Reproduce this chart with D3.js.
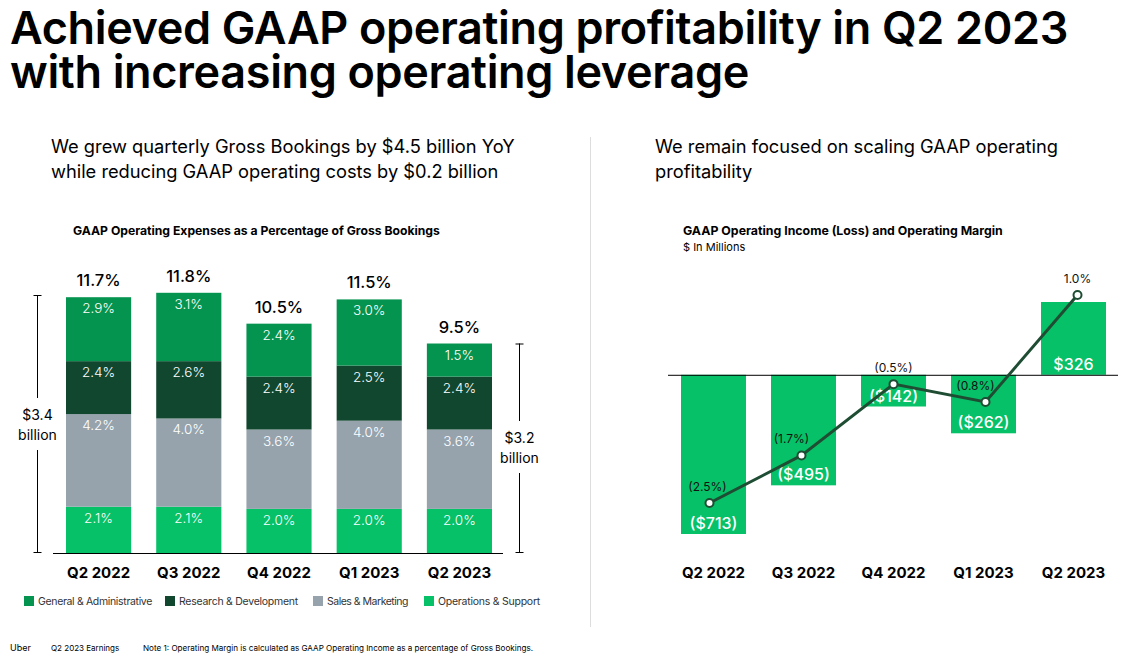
<!DOCTYPE html>
<html><head><meta charset="utf-8">
<script src="https://cdn.jsdelivr.net/npm/d3@7"></script>
<style>
html,body{margin:0;padding:0;background:#fff;}
svg{display:block;font-family:Inter,"Open Sans",sans-serif;}
</style></head>
<body><svg id="c" width="1126" height="657"></svg>
<script>
// ---- data ----
const categories = ["Q2 2022","Q3 2022","Q4 2022","Q1 2023","Q2 2023"];
const opsSupport = [2.1,2.1,2.0,2.0,2.0];
const salesMarketing = [4.2,4.0,3.6,4.0,3.6];
const researchDev = [2.4,2.6,2.4,2.5,2.4];
const generalAdmin = [2.9,3.1,2.4,3.0,1.5];
const totalPct = [11.7,11.8,10.5,11.5,9.5];
const seriesNames = ["Operations & Support","Sales & Marketing","Research & Development","General & Administrative"];
const legendOrder = ["General & Administrative","Research & Development","Sales & Marketing","Operations & Support"];
const operatingIncome = [-713,-495,-142,-262,326];
const operatingMargin = [-2.5,-1.7,-0.5,-0.8,1.0];
const bookingsLeft = ["$3.4","billion"];
const bookingsRight = ["$3.2","billion"];

const colors = {
  "General & Administrative":"#05944F",
  "Research & Development":"#11472F",
  "Sales & Marketing":"#96A3AD",
  "Operations & Support":"#06C167"
};
const barGreen = "#06C167";
const lineColor = "#1E4D33";

const svg = d3.select("#c");

function fit(sel, target){
  const n = sel.node();
  const w = n.getComputedTextLength();
  const fs = parseFloat(sel.attr("font-size"));
  sel.attr("font-size", (fs*target/w).toFixed(2));
}
function fitSpacing(sel, target){
  const n = sel.node();
  const w = n.getComputedTextLength();
  const len = sel.text().length;
  sel.attr("letter-spacing", ((target-w)/len).toFixed(3));
}

// ---- headings ----
const t1 = svg.append("text").attr("x",10).attr("y",44).attr("font-size",45).attr("font-weight",600)
  .attr("fill","#000").text("Achieved GAAP operating profitability in Q2 2023");
fitSpacing(t1,1058);
const t2 = svg.append("text").attr("x",10).attr("y",88).attr("font-size",45).attr("font-weight",600)
  .attr("fill","#000").attr("letter-spacing",t1.attr("letter-spacing")).text("with increasing operating leverage");

const s1 = svg.append("text").attr("x",51).attr("y",153).attr("font-size",19).attr("fill","#000")
  .text("We grew quarterly Gross Bookings by $4.5 billion YoY");
fit(s1,464);
const sfs = parseFloat(s1.attr("font-size"));
svg.append("text").attr("x",51).attr("y",178).attr("font-size",sfs).attr("fill","#000")
  .text("while reducing GAAP operating costs by $0.2 billion");
svg.append("text").attr("x",655).attr("y",153).attr("font-size",sfs).attr("fill","#000")
  .text("We remain focused on scaling GAAP operating");
svg.append("text").attr("x",655).attr("y",178).attr("font-size",sfs).attr("fill","#000")
  .text("profitability");

// divider
svg.append("line").attr("x1",590.5).attr("x2",590.5).attr("y1",137).attr("y2",627).attr("stroke","#ddd").attr("stroke-width",1);

// ---- left chart ----
const ct1 = svg.append("text").attr("x",73).attr("y",235).attr("font-size",12).attr("font-weight",700).attr("fill","#000")
  .text("GAAP Operating Expenses as a Percentage of Gross Bookings");
fit(ct1,367);

const xL = d3.scaleBand().domain(categories).range([66,492]).paddingInner(0.278).paddingOuter(0);
const yL = d3.scaleLinear().domain([0,11.7]).range([553,295]);

const rows = categories.map((c,i)=>({cat:c,
  "Operations & Support":opsSupport[i],
  "Sales & Marketing":salesMarketing[i],
  "Research & Development":researchDev[i],
  "General & Administrative":generalAdmin[i]}));
const stack = d3.stack().keys(seriesNames)(rows);

const gL = svg.append("g");
stack.forEach(layer=>{
  const key = layer.key;
  gL.selectAll(null).data(layer).enter().append("rect")
    .attr("x",d=>xL(d.data.cat)).attr("width",xL.bandwidth())
    .attr("y",d=>yL(d[1])).attr("height",d=>yL(d[0])-yL(d[1]))
    .attr("fill",colors[key]);
  gL.selectAll(null).data(layer).enter().append("text")
    .attr("x",d=>xL(d.data.cat)+xL.bandwidth()/2).attr("y",d=>yL(d[1])+16)
    .attr("text-anchor","middle").attr("font-size",13.5).attr("font-weight",300).attr("fill","#fff")
    .text(d=>d.data[key].toFixed(1)+"%");
});
// totals
gL.selectAll(null).data(categories).enter().append("text")
  .attr("x",c=>xL(c)+xL.bandwidth()/2)
  .attr("y",(c,i)=>yL(d3.sum(seriesNames,k=>rows[i][k]))-11)
  .attr("text-anchor","middle").attr("font-size",16.5).attr("font-weight",500).attr("fill","#000")
  .text((c,i)=>totalPct[i].toFixed(1)+"%");

// baseline
svg.append("line").attr("x1",53).attr("x2",503).attr("y1",553.5).attr("y2",553.5).attr("stroke","#000").attr("stroke-width",1.2);

// axis labels
const axL = svg.append("g").attr("transform","translate(0,553)")
  .call(d3.axisBottom(xL).tickSize(0).tickPadding(14));
axL.select(".domain").remove();
axL.selectAll("text").attr("font-size",15).attr("font-weight",700).attr("fill","#000").attr("font-family","Inter,sans-serif");

// brackets
function bracket(x, yTop, yBot, lines, textY){
  const g = svg.append("g");
  g.append("line").attr("x1",x).attr("x2",x).attr("y1",yTop).attr("y2",textY-22).attr("stroke","#000");
  g.append("line").attr("x1",x).attr("x2",x).attr("y1",textY+30).attr("y2",yBot).attr("stroke","#000");
  g.append("line").attr("x1",x-4).attr("x2",x+4).attr("y1",yTop+0.5).attr("y2",yTop+0.5).attr("stroke","#000");
  g.append("line").attr("x1",x-4).attr("x2",x+4).attr("y1",yBot-0.5).attr("y2",yBot-0.5).attr("stroke","#000");
  lines.forEach((l,i)=>g.append("text").attr("x",x).attr("y",textY+i*20).attr("text-anchor","middle")
    .attr("font-size",14).attr("fill","#000").text(l));
}
bracket(37.5, yL(totalPct[0]), 553, bookingsLeft, 420);
bracket(519.5, yL(totalPct[4]), 553, bookingsRight, 443);

// legend
const legX = [24,165,313,424];
const legW = [114,119,81,102];
const lg = svg.append("g");
legendOrder.forEach((k,i)=>{
  lg.append("rect").attr("x",legX[i]).attr("y",596).attr("width",10).attr("height",10).attr("fill",colors[k]);
  const t = lg.append("text").attr("x",legX[i]+14).attr("y",605).attr("font-size",10.5).attr("fill","#333").text(k);
  fitSpacing(t,legW[i]);
});

// ---- right chart ----
const ct2 = svg.append("text").attr("x",683).attr("y",235).attr("font-size",12).attr("font-weight",700).attr("fill","#000")
  .text("GAAP Operating Income (Loss) and Operating Margin");
fit(ct2,320);
svg.append("text").attr("x",683).attr("y",251).attr("font-size",11).attr("fill","#000").text("$ In Millions");

const xR = d3.scaleBand().domain(categories).range([681,1106]).paddingInner(0.278).paddingOuter(0);
const yR = d3.scaleLinear().domain([-713,326]).range([534,302]);
const yM = d3.scaleLinear().domain([-2.5,1.0]).range([503,295]);

const gR = svg.append("g");
gR.selectAll("rect").data(operatingIncome).enter().append("rect")
  .attr("x",(d,i)=>xR(categories[i])).attr("width",xR.bandwidth())
  .attr("y",d=>yR(Math.max(0,d))).attr("height",d=>Math.abs(yR(d)-yR(0)))
  .attr("fill",barGreen);
gR.selectAll("text.val").data(operatingIncome).enter().append("text").attr("class","val")
  .attr("x",(d,i)=>xR(categories[i])+xR.bandwidth()/2)
  .attr("y",d=>Math.max(yR(d),yR(0))-5)
  .attr("text-anchor","middle").attr("font-size",16).attr("font-weight",500).attr("fill","#fff")
  .text(d=>d<0?"($"+Math.abs(d)+")":"$"+d);

svg.append("line").attr("x1",668).attr("x2",1118).attr("y1",yR(0)+0.5).attr("y2",yR(0)+0.5).attr("stroke","#000").attr("stroke-width",1);

const cx = (d,i)=>xR(categories[i])+xR.bandwidth()/2 + (i-2)*2;
const line = d3.line().x((d,i)=>cx(d,i)).y(d=>yM(d));
svg.append("path").datum(operatingMargin).attr("d",line).attr("fill","none").attr("stroke",lineColor).attr("stroke-width",3);
svg.selectAll("circle.m").data(operatingMargin).enter().append("circle").attr("class","m")
  .attr("cx",cx).attr("cy",d=>yM(d)).attr("r",4).attr("fill","#fff").attr("stroke",lineColor).attr("stroke-width",2);
const labOff = [-2,-10,0,-10,0];
svg.selectAll("text.m").data(operatingMargin).enter().append("text").attr("class","m")
  .attr("x",(d,i)=>cx(d,i)+labOff[i]).attr("y",d=>yM(d)-12)
  .attr("text-anchor","middle").attr("font-size",12).attr("fill","#111")
  .text(d=>d<0?"("+Math.abs(d).toFixed(1)+"%)":d.toFixed(1)+"%");

const axR = svg.append("g").attr("transform","translate(0,553)")
  .call(d3.axisBottom(xR).tickSize(0).tickPadding(14));
axR.select(".domain").remove();
axR.selectAll("text").attr("font-size",15).attr("font-weight",700).attr("fill","#000").attr("font-family","Inter,sans-serif");

// footer
svg.append("text").attr("x",10).attr("y",651).attr("font-size",9).attr("fill","#000").text("Uber");
svg.append("text").attr("x",51).attr("y",651).attr("font-size",8).attr("fill","#000").text("Q2 2023 Earnings");
const fn = svg.append("text").attr("x",143).attr("y",651).attr("font-size",8).attr("fill","#000")
  .text("Note 1: Operating Margin is calculated as GAAP Operating Income as a percentage of Gross Bookings.");
fit(fn,391);
</script></body></html>
